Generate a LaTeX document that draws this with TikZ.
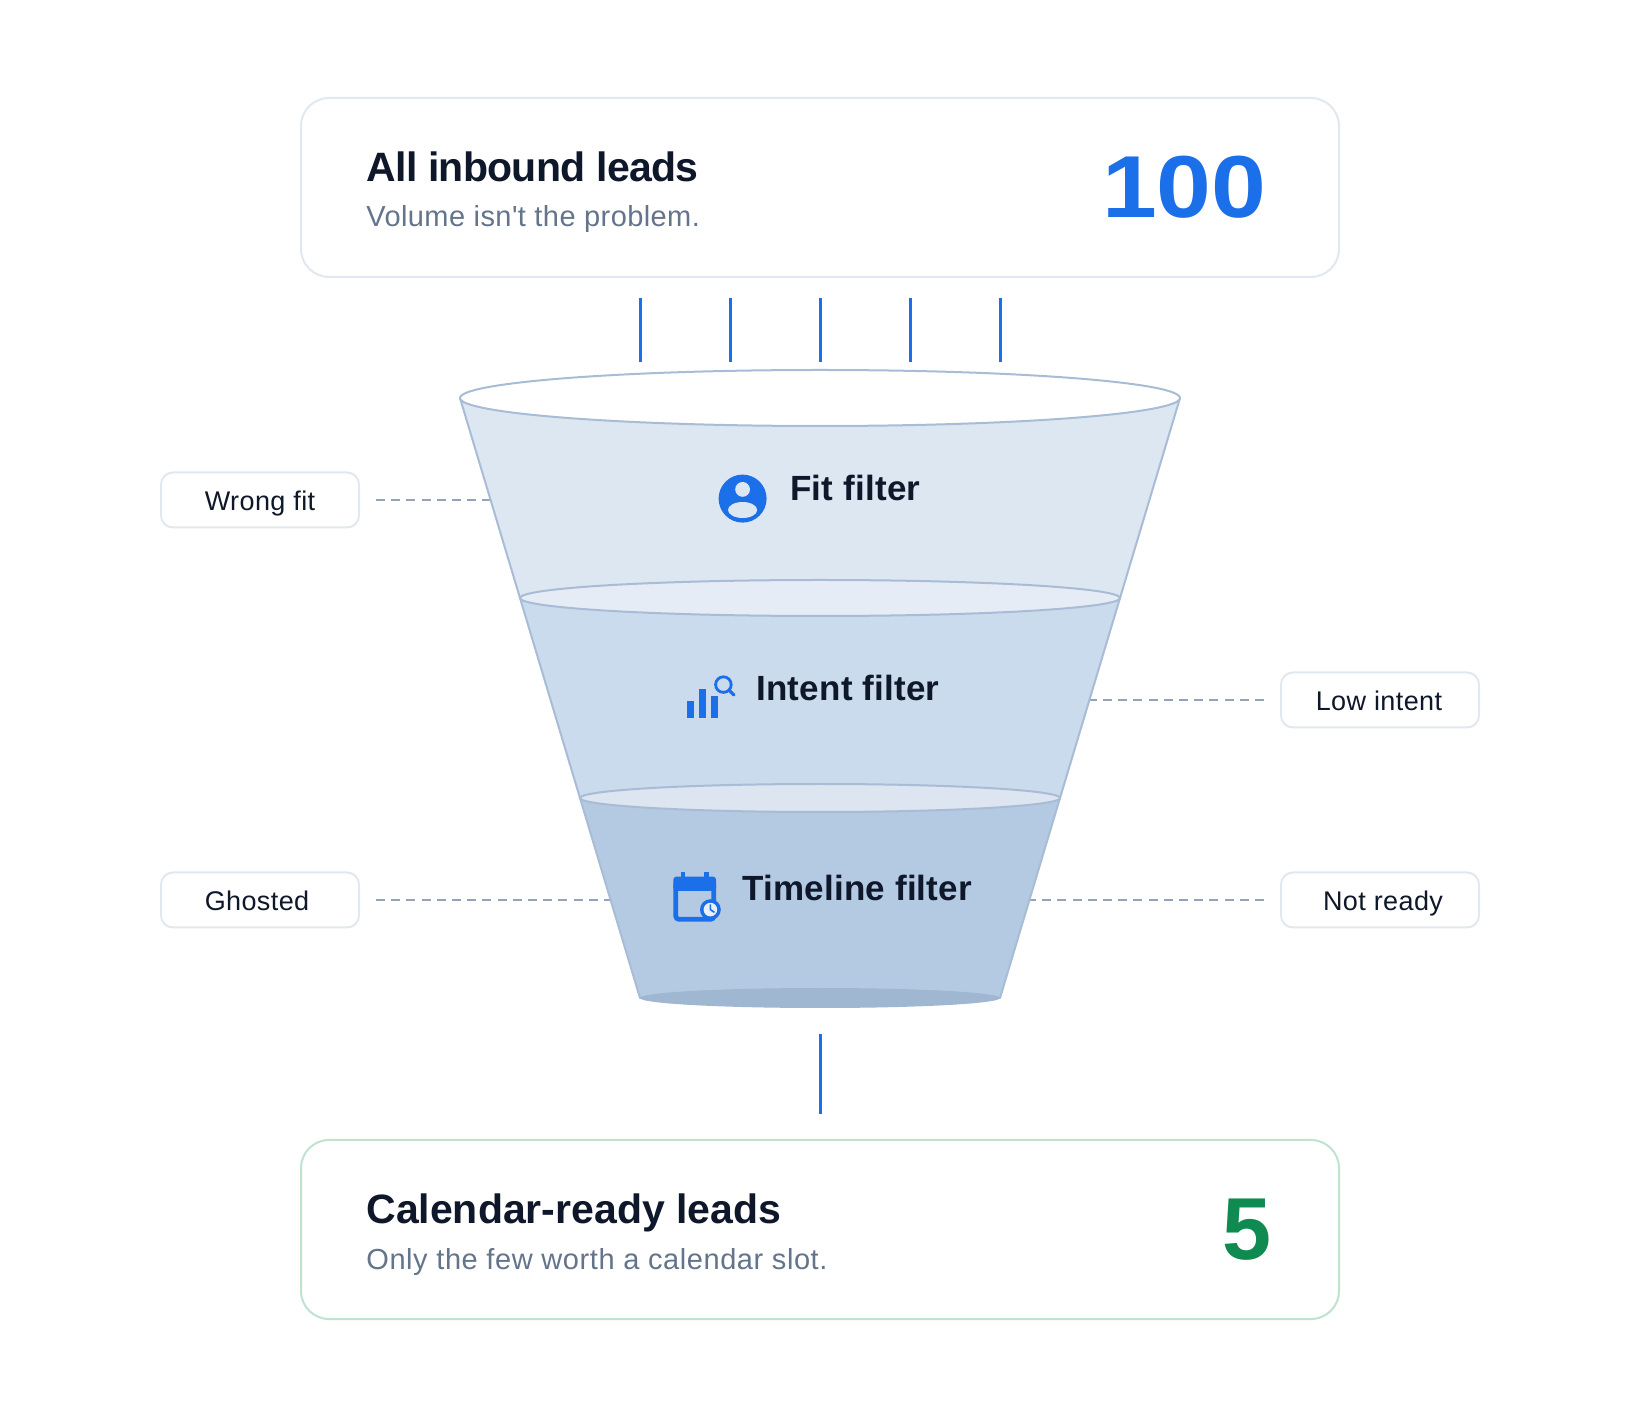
\documentclass[tikz,border=0pt]{standalone}
\usepackage{fontspec}
\setmainfont{Liberation Sans}
\newfontfamily\subfont{Liberation Sans}
\usetikzlibrary{positioning}

\definecolor{inkdark}{HTML}{0F172A}
\definecolor{inkgray}{HTML}{64748B}
\definecolor{leadblue}{HTML}{1B6FE8}
\definecolor{leadgreen}{HTML}{0F8A50}
\definecolor{cardline}{HTML}{E2E8F0}
\definecolor{greenline}{HTML}{BFE3CF}
\definecolor{funnelline}{HTML}{A9BCD6}
\definecolor{dashgray}{HTML}{94A3B8}
\definecolor{bandfit}{HTML}{DDE7F2}
\definecolor{bandintent}{HTML}{CBDBEE}
\definecolor{bandtime}{HTML}{B4CAE2}
\definecolor{lipintent}{HTML}{E5ECF6}
\definecolor{liptime}{HTML}{DCE5F0}
\definecolor{lipbottom}{HTML}{9FB7D1}

\newcommand{\fsz}[1]{\fontsize{#1}{#1}\selectfont}
\newcommand{\spc}[1]{\addfontfeature{LetterSpace=#1}}

\begin{document}
\begin{tikzpicture}[x=1pt,y=-1pt]

% Define styles
\tikzset{
  card/.style={draw=cardline, line width=1pt, rounded corners=14pt, fill=white,
    minimum width=519pt, minimum height=89.5pt, inner sep=0pt, outer sep=0pt},
  chip/.style={draw=cardline, line width=1pt, rounded corners=6pt, fill=white,
    minimum width=99pt, minimum height=27.5pt, inner sep=0pt, outer sep=0pt},
  cardtitle/.style={anchor=base west, inner sep=0pt, text=inkdark, font=\fsz{20.5}\bfseries},
  cardsub/.style={anchor=base west, inner sep=0pt, text=inkgray, font=\subfont\fsz{14.5}},
  cardnum/.style={anchor=base east, inner sep=0pt, font=\fsz{44}\bfseries},
  filterlabel/.style={anchor=base west, inner sep=0pt, text=inkdark, font=\fsz{17.5}\bfseries\spc{0.6}},
  chiplabel/.style={anchor=base, inner sep=0pt, text=inkdark, font=\fsz{13.5}\spc{1.5}},
  inflow/.style={draw=leadblue, line width=1.5pt},
  dropline/.style={draw=dashgray, line width=1.1pt, dash pattern=on 4.5pt off 3.1pt},
  band/.style={draw=funnelline, line width=1pt, line join=round},
  lip/.style={draw=funnelline, line width=1pt}
}

% Parameters
\def\cx{410}

\useasboundingbox (0,0) rectangle (820,708);
\fill[white] (0,0) rectangle (820,708);

% Cards
\node[card] (allcard) at (\cx,93.75) {};
\node[cardtitle] (alltitle) at (183,91) {\spc{-1.7}All inbound leads};
\node[cardsub] (allsub) at (183,113.5) {\spc{1.45}Volume isn't the problem.};
\node[cardnum, text=leadblue] (allnum) at (633.5,108.8) {\addfontfeature{FakeStretch=1.12}100};

\node[card, draw=greenline] (readycard) at (\cx,614.75) {};
\node[cardtitle] (readytitle) at (183,612) {Calendar-ready leads};
\node[cardsub] (readysub) at (183,634.5) {\spc{2}Only the few worth a calendar slot.};
\node[cardnum, text=leadgreen] (readynum) at (636,629.8) {5};

% Lines going in and out
\foreach \x in {320,365,410,455,500} {
  \coordinate (in\x a) at (\x,149);
  \coordinate (in\x b) at (\x,181);
  \draw[inflow] (in\x a) -- (in\x b);
}
\coordinate (outa) at (\cx,517);
\coordinate (outb) at (\cx,557);
\draw[inflow] (outa) -- (outb);

% Chips and their dashed lines
\foreach \name/\x/\y/\tx/\text in {wrong/130/250/130/Wrong fit, ghost/130/450/128.5/Ghosted,
    low/690/350/689.5/Low intent, ready/690/450/691.5/Not ready} {
  \node[chip] (\name chip) at (\x,\y) {};
  \node[chiplabel] (\name label) at (\tx,\y+5.5) {\text};
}
\coordinate (wrongedge) at (246,250);
\coordinate (ghostedge) at (306,450);
\coordinate (lowedge) at (544,350);
\coordinate (readyedge) at (514,450);
\draw[dropline] ([xshift=8.5pt]wrongchip.east) -- (wrongedge);
\draw[dropline] ([xshift=8.5pt]ghostchip.east) -- (ghostedge);
\draw[dropline] ([xshift=-8.5pt]lowchip.west) -- (lowedge);
\draw[dropline] ([xshift=-8.5pt]readychip.west) -- (readyedge);

% Funnel bands
\foreach \yt/\rt/\yb/\rb/\col in {199/180/299/150/bandfit, 299/150/399/120/bandintent, 399/120/499/90/bandtime} {
  \draw[band, fill=\col] ({\cx-\rt},\yt) -- ({\cx-\rb},\yb) -- ({\cx+\rb},\yb) -- ({\cx+\rt},\yt) -- cycle;
}

% Funnel lips
\draw[lip, fill=white] (\cx,199) ellipse [x radius=180, y radius=14];
\draw[lip, fill=lipintent] (\cx,299) ellipse [x radius=150, y radius=9];
\draw[lip, fill=liptime] (\cx,399) ellipse [x radius=120, y radius=7];
\fill[lipbottom] (\cx,499) ellipse [x radius=90, y radius=5];

% Filter labels
\node[filterlabel] (fitlabel) at (395,250.5) {Fit filter};
\node[filterlabel] (intentlabel) at (378,350.5) {Intent filter};
\node[filterlabel] (timelabel) at (371,450.5) {Timeline filter};

% Fit icon
\fill[leadblue] (371.3,249.3) circle (12);
\fill[bandfit] (371.3,244.7) circle (3.7);
\fill[bandfit] (371.3,255) ellipse [x radius=7.3, y radius=4];

% Intent icon
\foreach \xa/\ya in {343.7/350.5, 349.7/344.5, 355.7/348} {
  \fill[leadblue] (\xa,\ya) rectangle ({\xa+3.5},358.8);
}
\draw[leadblue, line width=1.4pt] (361.7,342.3) circle (3.9);
\draw[leadblue, line width=1.6pt, line cap=round] (364.7,345.3) -- (367,347.5);

% Timeline icon
\draw[leadblue, line width=2.4pt, rounded corners=1.5pt] (337.9,441) rectangle (356.9,459.6);
\fill[leadblue, rounded corners=1.5pt] (336.7,438.3) rectangle (358,445.5);
\fill[leadblue] (340.3,436) rectangle (342.5,440);
\fill[leadblue] (352.2,436) rectangle (354.3,440);
\fill[leadblue] (355.2,454.8) circle (5.2);
\fill[bandtime!30!white] (355.2,454.8) circle (3.4);
\draw[leadblue, line width=0.8pt] (355.2,452.2) -- (355.2,454.8) -- (357.2,456.2);

\end{tikzpicture}
\end{document}
